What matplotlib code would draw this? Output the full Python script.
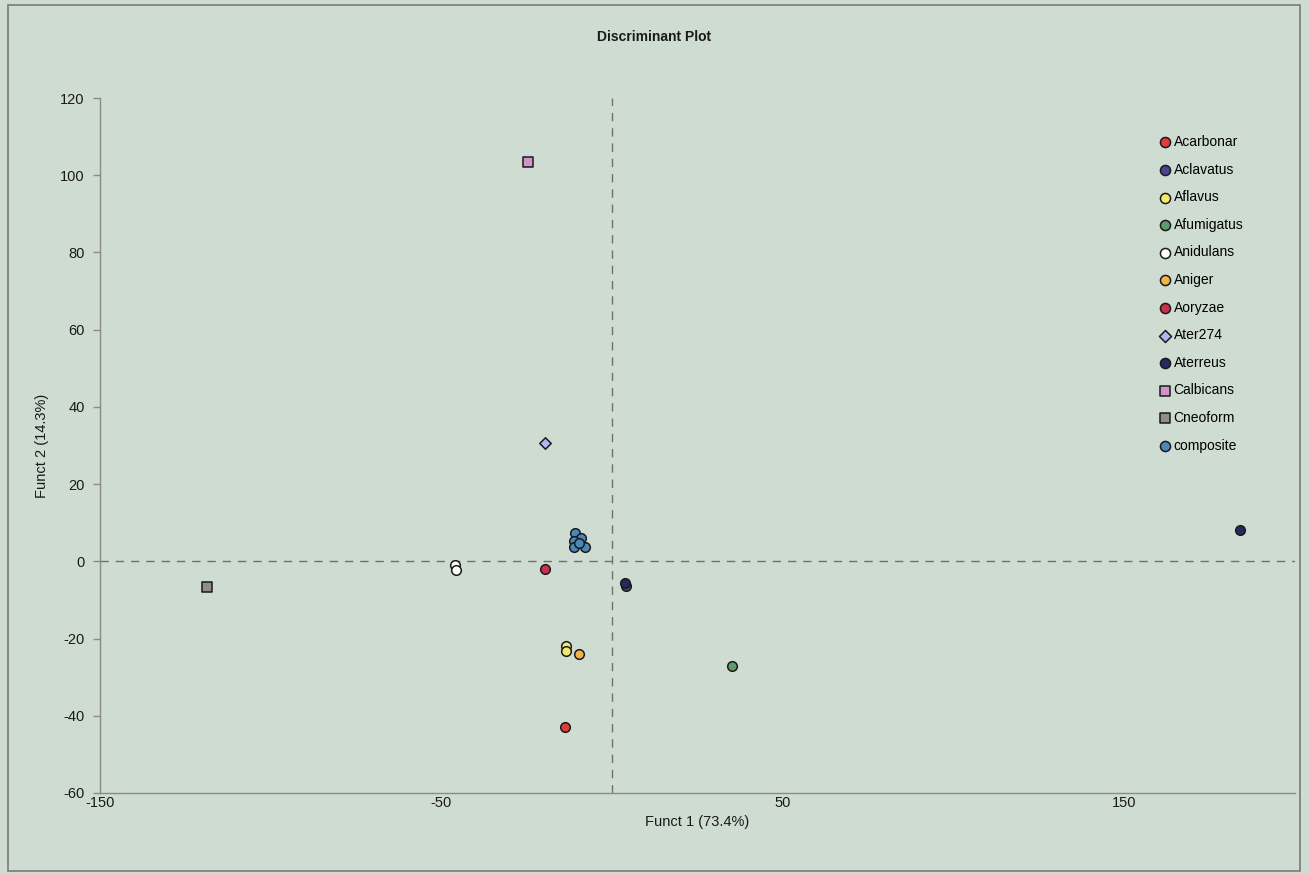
import matplotlib
matplotlib.use("Agg")
import matplotlib.pyplot as plt
from matplotlib.patches import Rectangle

plt.rcParams['font.family'] = ['Liberation Sans', 'DejaVu Sans']
plt.rcParams['axes.unicode_minus'] = False

# Discriminant scores per group: (Funct 1, Funct 2)
groups = ["Acarbonar", "Aclavatus", "Aflavus", "Afumigatus", "Anidulans", "Aniger",
          "Aoryzae", "Ater274", "Aterreus", "Calbicans", "Cneoform", "composite"]
funct1 = {
    "Acarbonar": [-13.8],
    "Aclavatus": [4.0],
    "Aflavus": [-13.5, -13.5],
    "Afumigatus": [35.0],
    "Anidulans": [-46.0, -45.6],
    "Aniger": [-9.7],
    "Aoryzae": [-19.7],
    "Ater274": [-19.7],
    "Aterreus": [3.8, 183.8],
    "Calbicans": [-24.7],
    "Cneoform": [-118.8],
    "composite": [-11.0, -9.0, -11.2, -11.2, -7.9, -9.7],
}
funct2 = {
    "Acarbonar": [-42.9],
    "Aclavatus": [-6.5],
    "Aflavus": [-22.0, -23.2],
    "Afumigatus": [-27.1],
    "Anidulans": [-0.9, -2.2],
    "Aniger": [-24.0],
    "Aoryzae": [-2.0],
    "Ater274": [30.7],
    "Aterreus": [-5.6, 8.0],
    "Calbicans": [103.4],
    "Cneoform": [-6.6],
    "composite": [7.3, 6.1, 5.3, 3.8, 3.8, 4.7],
}

x_ticks = [-150, -50, 50, 150]
y_ticks = [-60, -40, -20, 0, 20, 40, 60, 80, 100, 120]

colors = {
    "Acarbonar": "#e03a3a",
    "Aclavatus": "#4e4393",
    "Aflavus": "#f2ea6a",
    "Afumigatus": "#5f9a6c",
    "Anidulans": "#ffffff",
    "Aniger": "#f0b44a",
    "Aoryzae": "#c8304c",
    "Ater274": "#b4b4f2",
    "Aterreus": "#262a5e",
    "Calbicans": "#d292c8",
    "Cneoform": "#8e8e8e",
    "composite": "#4a88ba",
}
markers = {g: "o" for g in groups}
markers["Ater274"] = "D"
markers["Calbicans"] = "s"
markers["Cneoform"] = "s"

bg = "#cedcd2"
fig = plt.figure(figsize=(13.09, 8.74), dpi=100, facecolor=bg)
ax = fig.add_axes([100 / 1309, 1 - 793 / 874, 1195 / 1309, 695 / 874])
ax.set_facecolor(bg)

for g in groups:
    size = 48 if markers[g] != "D" else 34
    ax.scatter(funct1[g], funct2[g], s=size, marker=markers[g], c=colors[g],
               edgecolors="#1a1a1a", linewidths=1.1, label=g, zorder=3)

ax.axhline(0, color="#707070", lw=1, ls=(0, (6, 5)), zorder=1)
ax.axvline(0, color="#707070", lw=1, ls=(0, (6, 5)), zorder=1)

ax.set_xlim(-150, 200)
ax.set_ylim(-60, 120)
ax.set_xticks(x_ticks)
ax.set_yticks(y_ticks)
for s in ["top", "right"]:
    ax.spines[s].set_visible(False)
for s in ["left", "bottom"]:
    ax.spines[s].set_color("#8a8a8a")
    ax.spines[s].set_linewidth(1)
ax.tick_params(axis="both", colors="#8a8a8a", labelcolor="#1a1a1a",
               labelsize=10.5, width=1)
ax.tick_params(axis="y", length=5, pad=6)
ax.tick_params(axis="x", length=0, pad=2)

ax.set_xlabel("Funct 1 (73.4%)", fontsize=10.5, color="#1a1a1a", labelpad=4)
ax.set_ylabel("Funct 2 (14.3%)", fontsize=10.5, color="#1a1a1a", labelpad=8)
fig.text(0.5, 1 - 37 / 874, "Discriminant Plot", ha="center", va="center",
         fontsize=10, fontweight="bold", color="#1a1a1a")

leg = ax.legend(loc="upper left", bbox_to_anchor=(1150 / 1309, 1 - 128 / 874),
                bbox_transform=fig.transFigure, frameon=False, fontsize=10,
                handletextpad=0.0, labelspacing=0.98, borderpad=0,
                handlelength=1.2, markerscale=1.05)

fig.patches.append(Rectangle((8 / 1309, 3 / 874), 1292 / 1309, 866 / 874,
                             transform=fig.transFigure, fill=False,
                             edgecolor="#7a7a7a", lw=1.2))

fig.savefig("out.png", dpi=100, facecolor=bg)
